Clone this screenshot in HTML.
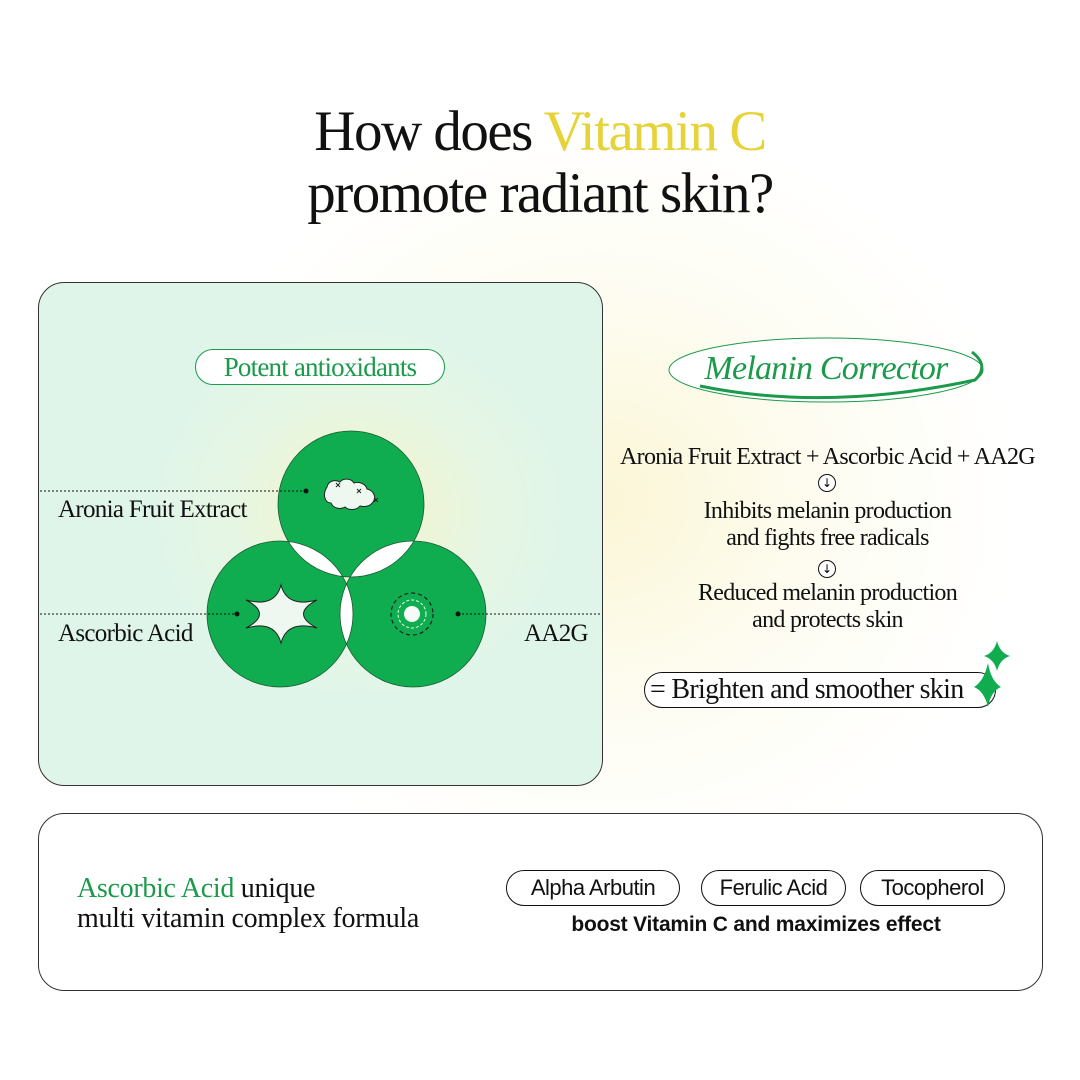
<!DOCTYPE html>
<html><head><style>
body{margin:0;width:1080px;height:1080px;overflow:hidden;font-family:"Liberation Serif",serif;}
.bg{position:absolute;left:0;top:0;width:1080px;height:1080px;background:radial-gradient(ellipse 420px 380px at 600px 500px,#fbf6d6 0%,#fefdf4 60%,#ffffff 100%);}
.t{position:absolute;white-space:nowrap;}
</style></head><body>
<div class="bg"></div>
<div class="t" style="left:0;width:1080px;text-align:center;top:101px;font-size:57px;line-height:62px;letter-spacing:-1.5px;color:#111;">How does <span style="color:#e6d33a">Vitamin C</span><br>promote radiant skin?</div>

<div style="position:absolute;left:38px;top:282px;width:563px;height:502px;border:1.5px solid #333;border-radius:26px;background:radial-gradient(ellipse 220px 200px at 320px 230px,#f4f4c8 0%,#e6f6e4 60%,#dff5ea 100%);"></div>

<div class="t" style="left:195px;top:349px;width:248px;height:34px;border:1.5px solid #1a9a4a;border-radius:18px;background:#fff;text-align:center;font-size:27px;line-height:34px;color:#1a9a4a;letter-spacing:-0.8px;">Potent antioxidants</div>

<svg style="position:absolute;left:0;top:0" width="1080" height="1080">
<g fill="#fff"><circle cx="351" cy="504" r="73"/><circle cx="280" cy="614" r="73"/><circle cx="413" cy="614" r="73"/></g>
<path fill="#0fad50" stroke="#1a5a30" stroke-width="0.8" fill-rule="evenodd" d="M278,504a73,73 0 1,0 146,0a73,73 0 1,0 -146,0Z M207,614a73,73 0 1,0 146,0a73,73 0 1,0 -146,0Z M340,614a73,73 0 1,0 146,0a73,73 0 1,0 -146,0Z"/>
<g stroke="#111" stroke-width="1" stroke-dasharray="2,2"><line x1="40" y1="491" x2="305" y2="491"/><line x1="40" y1="614" x2="237" y2="614"/><line x1="458" y1="614" x2="600" y2="614"/></g>
<circle cx="306" cy="491" r="2.5" fill="#111"/><circle cx="237" cy="614" r="2.5" fill="#111"/><circle cx="458" cy="614" r="2.5" fill="#111"/>
<path d="M327,487c1,-6 8,-8 13,-5c3,-4 11,-4 14,1c5,-2 12,1 13,6c6,1 10,8 6,13c-3,5 -10,5 -13,4c-3,4 -11,5 -15,1c-5,3 -12,1 -14,-4c-6,0 -9,-8 -4,-16z" fill="#eef8f0" stroke="#222" stroke-width="1"/>
<g stroke="#222" stroke-width="1"><path d="M336,483l4,4M340,483l-4,4M357,489l4,4M361,489l-4,4M374,498l4,4M378,498l-4,4"/></g>
<path d="M281,585Q287,608 317,600Q290,614 317,628Q287,620 281,643Q275,620 246,628Q273,614 246,600Q275,608 281,585Z" fill="#eef8f0" stroke="#222" stroke-width="1"/>
<circle cx="412" cy="614" r="21" fill="none" stroke="#222" stroke-width="1.2" stroke-dasharray="4,3"/>
<circle cx="412" cy="614" r="14" fill="none" stroke="#e8f6ea" stroke-width="1" stroke-dasharray="3,2"/>
<circle cx="412" cy="614" r="8" fill="#f5fbf6"/>
<ellipse cx="826" cy="370" rx="157" ry="32" fill="#fff" stroke="#1a9a4a" stroke-width="1"/>
<path d="M700,386 Q826,412 975,380 Q990,366 972,352" fill="none" stroke="#1a9a4a" stroke-width="3"/>
</svg>

<div class="t" style="left:58px;top:496px;font-size:25px;letter-spacing:-0.7px;color:#111;">Aronia Fruit Extract</div>
<div class="t" style="left:58px;top:620px;font-size:25px;letter-spacing:-0.7px;color:#111;">Ascorbic Acid</div>
<div class="t" style="left:524px;top:620px;font-size:25px;letter-spacing:-0.7px;color:#111;">AA2G</div>

<div class="t" style="left:666px;width:320px;text-align:center;top:350px;font-size:34px;font-style:italic;color:#1a9a4a;letter-spacing:-0.8px;">Melanin Corrector</div>

<div class="t" style="left:600px;width:455px;text-align:center;top:444px;font-size:24px;line-height:27px;color:#111;letter-spacing:-0.7px;">Aronia Fruit Extract + Ascorbic Acid + AA2G</div>
<div class="t" style="left:600px;width:455px;text-align:center;top:498px;font-size:24px;line-height:27px;color:#111;letter-spacing:-0.7px;">Inhibits melanin production<br>and fights free radicals</div>
<div class="t" style="left:600px;width:455px;text-align:center;top:580px;font-size:24px;line-height:27px;color:#111;letter-spacing:-0.7px;">Reduced melanin production<br>and protects skin</div>
<div class="t" style="left:818px;top:474px;width:16px;height:16px;border:1px solid #111;border-radius:50%;background:#fff;text-align:center;font-size:12px;line-height:16px;font-family:'DejaVu Sans';">↓</div>
<div class="t" style="left:818px;top:560px;width:16px;height:16px;border:1px solid #111;border-radius:50%;background:#fff;text-align:center;font-size:12px;line-height:16px;font-family:'DejaVu Sans';">↓</div>
<div class="t" style="left:644px;top:672px;width:350px;height:34px;border:1.5px solid #111;border-radius:18px;background:#fff;text-align:left;text-indent:5px;font-size:28px;line-height:34px;color:#111;letter-spacing:-0.7px;">= Brighten and smoother skin</div>
<svg style="position:absolute;left:0;top:0" width="1080" height="1080">
<path d="M997,641Q1000,653 1010,656Q1000,659 997,671Q994,659 984,656Q994,653 997,641Z" fill="#0fad50"/>
<path d="M988,663Q991,681 1001,687Q991,691 988,707Q984,691 974,687Q984,681 988,663Z" fill="#0fad50"/>
</svg>

<div style="position:absolute;left:38px;top:813px;width:1003px;height:176px;border:1.5px solid #333;border-radius:26px;background:#fff;"></div>
<div class="t" style="left:77px;top:874px;font-size:28px;line-height:30px;color:#111;letter-spacing:-0.3px;"><span style="color:#1a9a4a">Ascorbic Acid</span> unique<br>multi vitamin complex formula</div>
<div class="t" style="left:506px;top:870px;width:172px;height:34px;border:1.5px solid #111;border-radius:18px;text-align:center;font-family:'Liberation Sans',sans-serif;font-size:22px;line-height:34px;color:#111;letter-spacing:-0.5px;">Alpha Arbutin</div>
<div class="t" style="left:701px;top:870px;width:143px;height:34px;border:1.5px solid #111;border-radius:18px;text-align:center;font-family:'Liberation Sans',sans-serif;font-size:22px;line-height:34px;color:#111;letter-spacing:-0.5px;">Ferulic Acid</div>
<div class="t" style="left:860px;top:870px;width:143px;height:34px;border:1.5px solid #111;border-radius:18px;text-align:center;font-family:'Liberation Sans',sans-serif;font-size:22px;line-height:34px;color:#111;letter-spacing:-0.5px;">Tocopherol</div>
<div class="t" style="left:506px;width:500px;text-align:center;top:913px;font-family:'Liberation Sans',sans-serif;font-size:21px;font-weight:bold;color:#111;letter-spacing:-0.2px;">boost Vitamin C and maximizes effect</div>
</body></html>
